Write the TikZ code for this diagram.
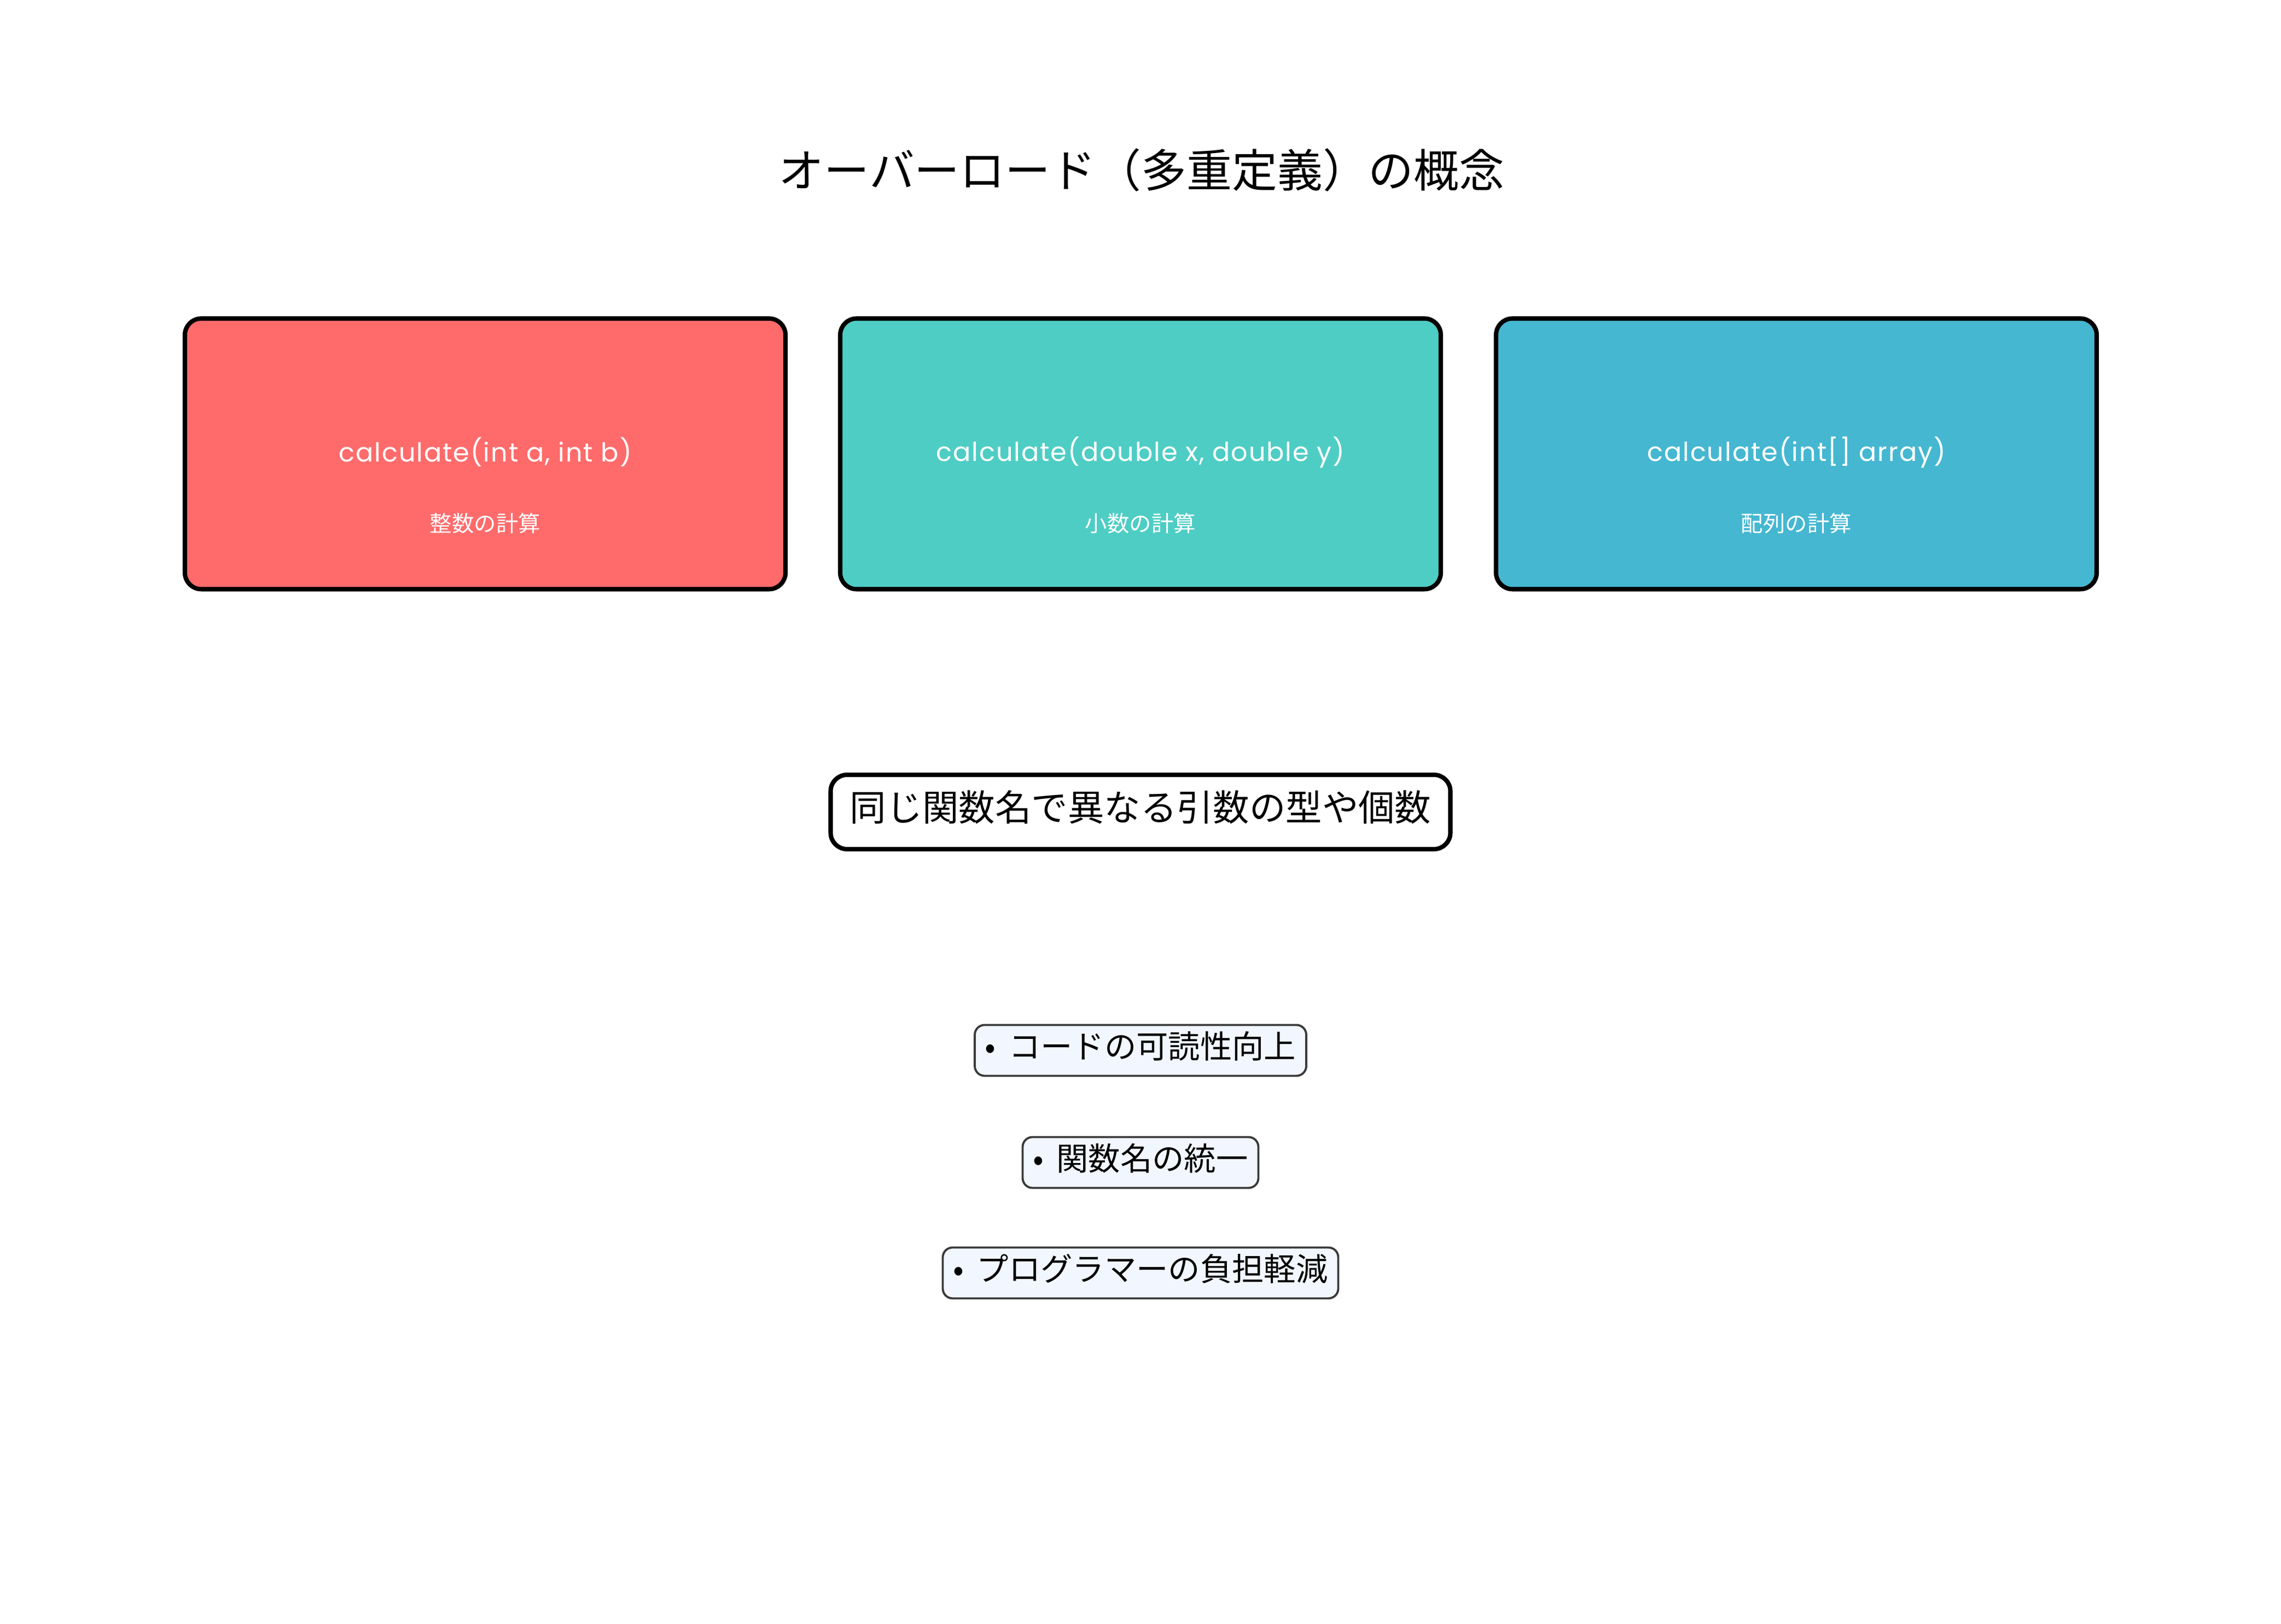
\documentclass[tikz,border=0pt]{standalone}
\usepackage{fontspec}
\setmainfont{Noto Sans CJK JP}
\newfontfamily\latinfont{Poppins}[LetterSpace=4]
\usepackage{xcolor}
\definecolor{redbox}{HTML}{FF6B6B}
\definecolor{tealbox}{HTML}{4ECDC4}
\definecolor{bluebox}{HTML}{45B7D1}
\definecolor{notefill}{HTML}{F2F7FF}
\definecolor{noteline}{HTML}{3A3A3A}

\begin{document}
\begin{tikzpicture}[
	methodbox/.style={draw=black, line width=2.3pt, rounded corners=0.3cm, minimum width=10.98cm, minimum height=4.95cm},
	codetext/.style={text=white, font=\latinfont\fontsize{13.6}{16}\selectfont},
	subtext/.style={text=white, font=\fontsize{11.5}{14}\selectfont},
	notebox/.style={draw=noteline, fill=notefill, line width=1.1pt, rounded corners=0.18cm, minimum height=0.93cm, inner sep=0pt, text height=0.45cm, text depth=0.16cm},
	notetext/.style={font=\fontsize{16.6}{19}\selectfont}]
	\useasboundingbox (0,0) rectangle (41.7,29.7);
	\node[font=\fontsize{23.6}{28}\selectfont] (title) at (20.87,26.59) {オーバーロード（多重定義）の概念};
	% three overloaded methods
	\node[methodbox, fill=redbox] (intbox) at (8.87,21.40) {};
	\node[methodbox, fill=tealbox] (doublebox) at (20.85,21.40) {};
	\node[methodbox, fill=bluebox] (arraybox) at (32.84,21.40) {};
	\node[codetext] (intcode) at (8.87,21.43) {calculate(int a, int b)};
	\node[codetext] (doublecode) at (20.85,21.43) {calculate(double x, double y)};
	\node[codetext] (arraycode) at (32.84,21.43) {calculate(int[] array)};
	\node[subtext] (intsub) at (8.87,20.13) {整数の計算};
	\node[subtext] (doublesub) at (20.85,20.13) {小数の計算};
	\node[subtext] (arraysub) at (32.84,20.13) {配列の計算};
	% summary
	\node[draw=black, line width=2.3pt, rounded corners=0.3cm, minimum width=11.33cm, minimum height=1.36cm, inner sep=0pt, text height=0.5cm, text depth=0.16cm, font=\fontsize{18.9}{22}\selectfont] (summary) at (20.85,14.85) {同じ関数名で異なる引数の型や個数};
	% merits
	\node[notebox, notetext, minimum width=6.06cm] (readable) at (20.85,10.49) {•\hspace{0.4em}コードの可読性向上};
	\node[notebox, notetext, minimum width=4.31cm] (unified) at (20.85,8.44) {•\hspace{0.4em}関数名の統一};
	\node[notebox, notetext, minimum width=7.23cm] (burden) at (20.85,6.42) {•\hspace{0.4em}プログラマーの負担軽減};
\end{tikzpicture}
\end{document}
